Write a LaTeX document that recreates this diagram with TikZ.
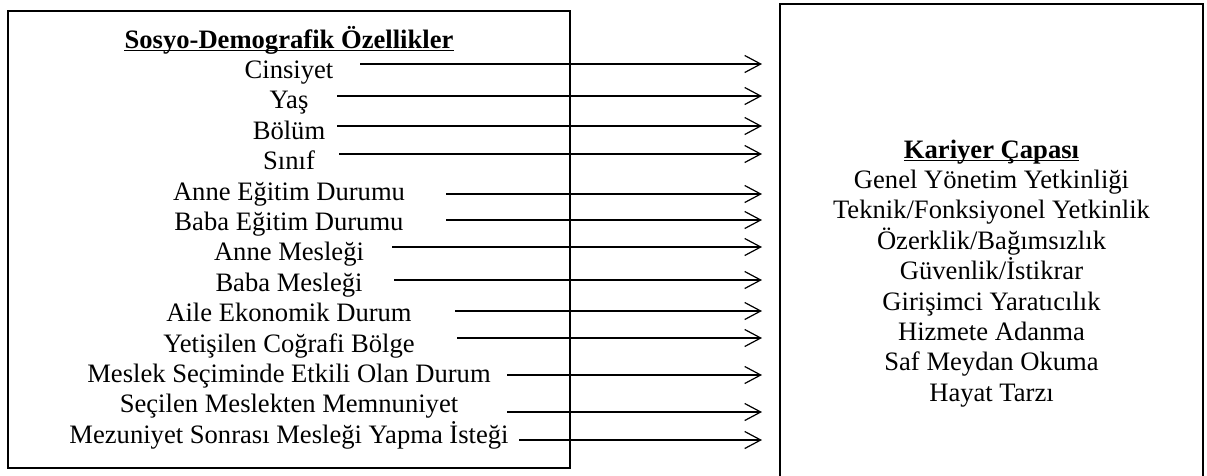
\documentclass[tikz,border=0pt]{standalone}
\usepackage{fontspec}
\setmainfont{Liberation Serif}
\usetikzlibrary{arrows.meta,positioning}
\tikzset{
  item/.style={anchor=base, inner sep=0pt, font=\fontsize{26.6}{30.4}\selectfont},
  heading/.style={item, font=\fontsize{26.6}{30.4}\selectfont\bfseries},
  frame/.style={draw, line width=2.5pt},
  link/.style={line width=1.2pt, -{Straight Barb[length=16pt,width=17pt]}},
  ul/.style={line width=1.5pt}
  }

\begin{document}
\begin{tikzpicture}[x=1pt, y=-1pt]
      \useasboundingbox (0,0) rectangle (1207,475);
      % left box
      \node [frame, minimum width=562pt, minimum height=457pt] (demo) at (289,239.5) {};
      \node [heading] (demot) at (289,48) {Sosyo-Demografik Özellikler};
      \draw [ul] ([yshift=-2.7pt]demot.base west) -- ([yshift=-2.7pt]demot.base east);
      \node [item] (cins) at (289,78.4) {Cinsiyet};
      \node [item] (yas) at (289,108.8) {Yaş};
      \node [item] (bolum) at (289,139.2) {Bölüm};
      \node [item] (sinif) at (289,169.6) {Sınıf};
      \node [item] (anneeg) at (289,200) {Anne Eğitim Durumu};
      \node [item] (babaeg) at (289,230.4) {Baba Eğitim Durumu};
      \node [item] (annemes) at (289,260.8) {Anne Mesleği};
      \node [item] (babames) at (289,291.2) {Baba Mesleği};
      \node [item] (aile) at (289,321.6) {Aile Ekonomik Durum};
      \node [item] (bolge) at (289,352) {Yetişilen Coğrafi Bölge};
      \node [item] (secim) at (289,382.4) {Meslek Seçiminde Etkili Olan Durum};
      \node [item] (memnun) at (289,412.8) {Seçilen Meslekten Memnuniyet};
      \node [item] (istek) at (289,443.2) {Mezuniyet Sonrası Mesleği Yapma İsteği};
      % right box
      \coordinate (capa-bl) at (780,476);
      \coordinate (capa-tr) at (1203,4);
      \coordinate (capa-br) at (1203,476);
      \draw [frame] (capa-bl) |- (capa-tr) -- (capa-br);
      \node [heading] (capat) at (991.5,158) {Kariyer Çapası};
      \draw [ul] ([yshift=-2.7pt]capat.base west) -- ([yshift=-2.7pt]capat.base east);
      \node [item] (genel) at (991.5,188.4) {Genel Yönetim Yetkinliği};
      \node [item] (teknik) at (991.5,218.8) {Teknik/Fonksiyonel Yetkinlik};
      \node [item] (ozerk) at (991.5,249.2) {Özerklik/Bağımsızlık};
      \node [item] (guven) at (991.5,279.6) {Güvenlik/İstikrar};
      \node [item] (giris) at (991.5,310) {Girişimci Yaratıcılık};
      \node [item] (hizmet) at (991.5,340.4) {Hizmete Adanma};
      \node [item] (saf) at (991.5,370.8) {Saf Meydan Okuma};
      \node [item] (hayat) at (991.5,401.2) {Hayat Tarzı};
      % arrows
      \coordinate (cins-s) at (360,64);    \coordinate (cins-e) at (762,64);
      \coordinate (yas-s) at (337,96);     \coordinate (yas-e) at (762,96);
      \coordinate (bolum-s) at (337,126);  \coordinate (bolum-e) at (762,126);
      \coordinate (sinif-s) at (339,154);  \coordinate (sinif-e) at (762,154);
      \coordinate (anneeg-s) at (446,194); \coordinate (anneeg-e) at (762,194);
      \coordinate (babaeg-s) at (446,220); \coordinate (babaeg-e) at (762,220);
      \coordinate (annemes-s) at (392,247); \coordinate (annemes-e) at (762,247);
      \coordinate (babames-s) at (394,280); \coordinate (babames-e) at (762,280);
      \coordinate (aile-s) at (455,311);   \coordinate (aile-e) at (762,311);
      \coordinate (bolge-s) at (457,338);  \coordinate (bolge-e) at (762,338);
      \coordinate (secim-s) at (507,375);  \coordinate (secim-e) at (762,375);
      \coordinate (memnun-s) at (507,412); \coordinate (memnun-e) at (762,412);
      \coordinate (istek-s) at (519,440);  \coordinate (istek-e) at (762,440);
      \draw [link] (cins-s) -- (cins-e);
      \draw [link] (yas-s) -- (yas-e);
      \draw [link] (bolum-s) -- (bolum-e);
      \draw [link] (sinif-s) -- (sinif-e);
      \draw [link] (anneeg-s) -- (anneeg-e);
      \draw [link] (babaeg-s) -- (babaeg-e);
      \draw [link] (annemes-s) -- (annemes-e);
      \draw [link] (babames-s) -- (babames-e);
      \draw [link] (aile-s) -- (aile-e);
      \draw [link] (bolge-s) -- (bolge-e);
      \draw [link] (secim-s) -- (secim-e);
      \draw [link] (memnun-s) -- (memnun-e);
      \draw [link] (istek-s) -- (istek-e);
    \end{tikzpicture}
\end{document}
